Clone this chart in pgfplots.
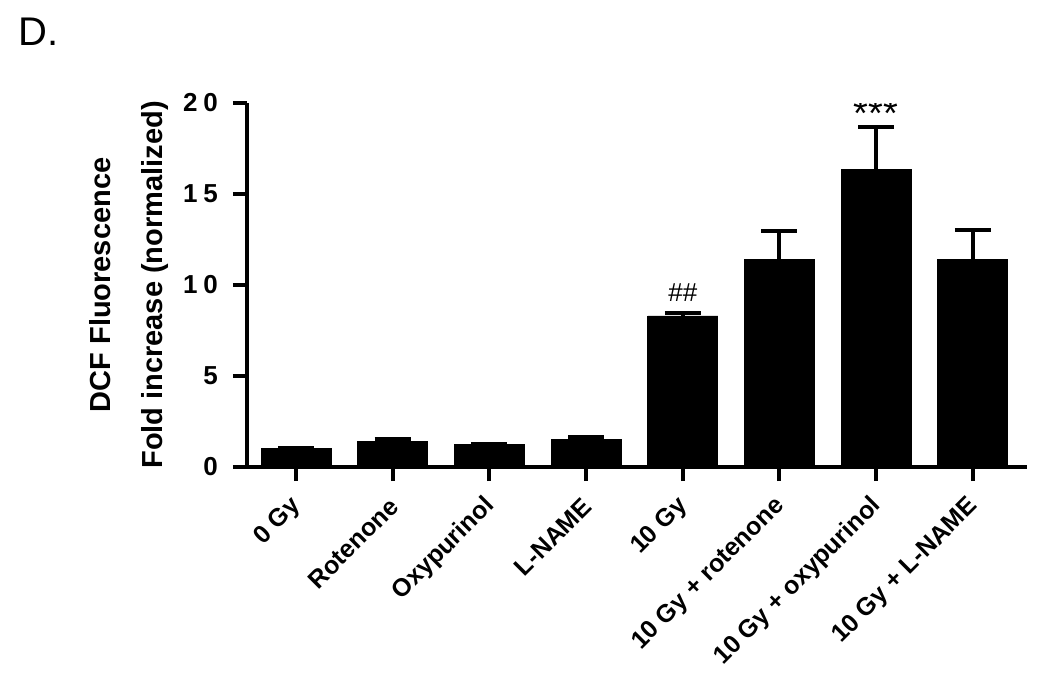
\documentclass[border=0pt]{standalone}
\usepackage{pgfplots}
\pgfplotsset{compat=1.18}
\usepackage{fontspec}
\setmainfont{Liberation Sans}

\pgfplotstableread{
x y err
0 1.02 0
1 1.38 0.16
2 1.26 0
3 1.52 0.13
4 8.30 0.15
5 11.38 1.60
6 16.33 2.35
7 11.38 1.65
}\dcfdata

\begin{document}
\begin{tikzpicture}
\begin{axis}[
    scale only axis,
    width=390pt, height=182pt,
    xmin=-0.507, xmax=7.56,
    ymin=0, ymax=20,
    axis x line=bottom, axis y line=left,
    axis line style={-, line width=2pt},
    tick style={black, line width=2pt},
    major tick length=7pt,
    tick align=outside,
    xtick={0,...,7},
    xticklabels={0 Gy, Rotenone, Oxypurinol, L-NAME, 10 Gy,
        10 Gy + rotenone, 10 Gy + oxypurinol, 10 Gy + L-NAME},
    x tick label style={font=\fontsize{12.5}{14}\bfseries, rotate=45, anchor=east, inner sep=1pt, xshift=-6pt, yshift=-8pt},
    ytick={0,5,10,15,20},
    yticklabels={0, 5, 1\hspace{3pt}0, 1\hspace{3pt}5, 2\hspace{3pt}0},
    y tick label style={font=\fontsize{13}{14}\bfseries, xshift=-4pt},
    ylabel={DCF Fluorescence\\Fold increase (normalized)},
    ylabel style={font=\fontsize{14.5}{26}\bfseries, align=center,
        at={(axis description cs:-0.151,0.5)}, anchor=center, rotate=0},
    ybar, bar width=35pt,
    error bars/y dir=plus, error bars/y explicit,
    error bars/error bar style={line width=2pt, black},
    error bars/error mark options={rotate=90, mark size=9pt, line width=2pt, black},
]
\addplot[fill=black, draw=black] table[x=x, y=y, y error=err] {\dcfdata};
\node[font=\fontsize{13}{14}\selectfont, anchor=south] at (axis cs:4,8.7) {\#\#};
\node[font=\fontsize{19}{20}\selectfont, anchor=south] at (axis cs:6,18.3) {***};
\end{axis}
\node[anchor=north west, inner sep=0pt, font=\fontsize{20}{22}\selectfont] at (-114.5pt,224.5pt) {D.};
\pgfresetboundingbox
\path (-123.5pt,-115pt) rectangle (401.5pt,233.5pt);
\end{tikzpicture}
\end{document}
